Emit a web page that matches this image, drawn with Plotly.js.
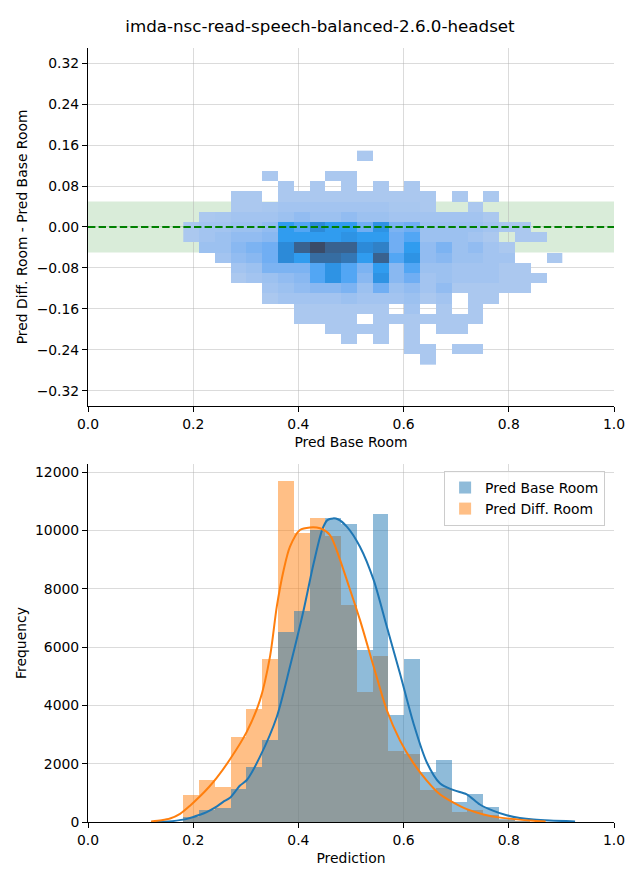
<!DOCTYPE html>
<html>
<head>
<meta charset="utf-8">
<script src="https://cdn.plot.ly/plotly-3.0.1.min.js"></script>
<style>html,body{margin:0;padding:0;background:#fff;}#chart{width:640px;height:880px;}</style>
</head>
<body>
<div id="chart"></div>
<script>
// ---------- DATA ----------
const chartTitle = "imda-nsc-read-speech-balanced-2.6.0-headset";

// shared bin centres (Pred Base Room / Prediction axis)
const xBinCenters = [0.1962,0.2262,0.2562,0.2862,0.3162,0.3462,0.3762,0.4062,0.4362,0.4662,0.4962,0.5262,
                     0.5562,0.5862,0.6162,0.6462,0.6762,0.7062,0.7362,0.7662,0.7962,0.8262,0.8562,0.8862];

// difference bin centres, top row first
const yBinCenters = [0.1393,0.1194,0.0995,0.0796,0.0597,0.0398,0.0199,0,-0.0199,-0.0398,-0.0597,
                     -0.0796,-0.0995,-0.1194,-0.1393,-0.1592,-0.1791,-0.199,-0.2189,-0.2388,-0.2587];

// estimated counts per cell, top row first (0 = empty)
const cellCounts = [
 [0,0,0,0,0,0,0,0,0,0,0,40,0,0,0,0,0,0,0,0,0,0,0,0],
 [0,0,0,0,0,0,0,0,0,0,0,0,0,0,0,0,0,0,0,0,0,0,0,0],
 [0,0,0,0,0,40,0,0,0,40,40,0,0,0,0,0,0,0,0,0,0,0,0,0],
 [0,0,0,0,0,0,40,0,40,0,40,0,40,0,40,0,0,0,0,0,0,0,0,0],
 [0,0,0,40,40,0,40,40,40,40,40,40,40,40,40,40,0,40,0,40,0,0,0,0],
 [0,0,0,40,40,60,100,100,100,100,100,100,100,60,60,40,0,0,40,0,0,0,0,0],
 [0,40,60,100,100,100,160,220,160,160,220,160,160,100,100,100,100,100,100,40,0,0,0,0],
 [40,100,100,160,160,220,640,520,760,640,640,400,700,340,400,160,160,160,160,100,40,40,0,0],
 [40,100,160,220,220,280,640,640,640,640,700,640,640,400,520,160,160,160,100,40,0,40,40,0],
 [0,160,160,280,340,400,760,1000,1120,1000,1000,760,820,400,640,220,340,160,220,100,40,0,0,0],
 [0,0,100,220,280,400,760,640,940,940,880,640,1000,520,700,220,280,160,160,100,100,0,0,40],
 [0,0,0,100,160,340,340,340,520,700,520,340,640,280,520,160,160,100,100,100,40,40,0,0],
 [0,0,0,40,100,160,220,280,520,700,520,280,700,280,400,100,160,100,100,100,40,40,40,0],
 [0,0,0,0,0,100,160,220,280,280,340,160,400,160,220,100,220,40,40,40,40,40,0,0],
 [0,0,0,0,0,40,100,100,100,100,160,100,100,100,160,40,100,0,40,40,0,0,0,0],
 [0,0,0,0,0,0,0,40,40,40,40,40,40,0,100,0,40,0,40,0,0,0,0,0],
 [0,0,0,0,0,0,0,40,40,40,40,0,40,40,40,40,40,40,40,0,0,0,0,0],
 [0,0,0,0,0,0,0,0,0,40,40,40,40,0,40,0,40,40,0,0,0,0,0,0],
 [0,0,0,0,0,0,0,0,0,0,40,0,40,0,40,0,0,0,0,0,0,0,0,0],
 [0,0,0,0,0,0,0,0,0,0,0,0,0,0,40,40,0,40,40,0,0,0,0,0],
 [0,0,0,0,0,0,0,0,0,0,0,0,0,0,0,40,0,0,0,0,0,0,0,0]
];

const toleranceBand = [-0.05, 0.05];

// histogram counts per bin
const baseRoomCounts = [180,410,480,1130,1900,2820,6515,7235,10010,10410,10220,5900,
                        10560,3670,5590,1700,2130,690,960,500,90,40,15,5];
const diffRoomCounts = [926,1440,1200,2915,3875,5590,11690,9920,10410,9810,7440,4470,
                        5690,2435,2330,1110,1170,355,400,240,60,25,8,0];

// KDE curves
const kdeBaseX = [0.12,0.143,0.16,0.19,0.213,0.2256,0.242,0.257,0.27,0.289,0.302,0.327,0.359,0.384,0.41,0.429,0.445,
                  0.455,0.466,0.475,0.492,0.517,0.543,0.568,0.593,0.619,0.644,0.669,0.694,0.72,0.745,0.771,
                  0.796,0.821,0.847,0.878,0.926];
const kdeBaseY = [0,10,30,115,250,340,500,690,830,1250,1440,2240,3610,5330,7270,8870,10010,
                  10350,10410,10380,10130,9440,8300,6700,5100,3370,2050,1330,1100,950,600,380,
                  230,140,85,50,20];
const kdeDiffX = [0.12,0.14,0.156,0.175,0.194,0.213,0.23,0.245,0.27,0.302,0.327,0.346,0.359,0.372,0.384,0.403,
                  0.422,0.441,0.46,0.478,0.492,0.517,0.543,0.568,0.593,0.619,0.644,0.669,0.694,0.72,0.752,
                  0.784,0.815,0.847,0.87];
const kdeDiffY = [20,60,120,280,560,880,1200,1520,2150,3100,4180,5670,7390,8640,9440,10010,
                  10100,10070,9840,9050,8300,6930,5330,3840,2800,2010,1420,950,670,440,260,
                  150,90,45,20];

// ---------- STYLE ----------
const FONT = "DejaVu Sans, sans-serif";
const FS = 13.9;
const GRID = "rgba(176,176,176,0.45)";
const BLUE = "#1f77b4", ORANGE = "#ff7f0e";

const zRows = cellCounts.map(r => r.map(v => v === 0 ? null : v)).slice().reverse();
const yRows = yBinCenters.slice().reverse();

const heat = {
  type: "heatmap", x: xBinCenters, y: yRows, z: zRows,
  xaxis: "x", yaxis: "y", showscale: false, zmin: 40, zmax: 1120,
  hoverongaps: false, zsmooth: false,
  colorscale: [
    [0.0, "#abc8ef"], [0.111, "#9cc1f0"], [0.222, "#89b8f1"], [0.333, "#70aef3"],
    [0.444, "#52a6f4"], [0.556, "#309cef"], [0.667, "#2c8ad8"], [0.778, "#3477b5"],
    [0.889, "#39628f"], [1.0, "#3a4b68"]
  ]
};

const barDiff = {
  type: "bar", x: xBinCenters, y: diffRoomCounts, width: 0.03,
  xaxis: "x2", yaxis: "y2", name: "Pred Diff. Room", legendrank: 2,
  marker: {color: "rgba(255,127,14,0.5)", line: {width: 0}}
};
const barBase = {
  type: "bar", x: xBinCenters, y: baseRoomCounts, width: 0.03,
  xaxis: "x2", yaxis: "y2", name: "Pred Base Room", legendrank: 1,
  marker: {color: "rgba(31,119,180,0.5)", line: {width: 0}}
};
const kdeBase = {
  type: "scatter", mode: "lines", x: kdeBaseX, y: kdeBaseY, xaxis: "x2", yaxis: "y2",
  line: {color: BLUE, width: 2, shape: "spline", smoothing: 0.8}, showlegend: false, hoverinfo: "skip"
};
const kdeDiff = {
  type: "scatter", mode: "lines", x: kdeDiffX, y: kdeDiffY, xaxis: "x2", yaxis: "y2",
  line: {color: ORANGE, width: 2, shape: "spline", smoothing: 0.8}, showlegend: false, hoverinfo: "skip"
};

const axisCommon = {
  showgrid: true, gridcolor: GRID, gridwidth: 1, zeroline: false,
  showline: true, linecolor: "#000", linewidth: 1,
  ticks: "outside", ticklen: 5, tickwidth: 1, tickcolor: "#000",
  tickfont: {family: FONT, size: FS, color: "#000"}, layer: "above traces"
};

const layout = {
  width: 640, height: 880,
  margin: {l: 88, r: 26, t: 48, b: 58},
  paper_bgcolor: "#fff", plot_bgcolor: "#fff",
  font: {family: FONT, size: FS, color: "#000"},
  title: {text: chartTitle, font: {family: FONT, size: 16.7, color: "#000"},
          x: 0.5, xref: "container", y: 0.9705, yref: "container", yanchor: "middle"},
  barmode: "overlay", bargap: 0,
  showlegend: true,
  legend: {x: 0.677, y: 0.4535, xref: "paper", yref: "paper", xanchor: "left", yanchor: "top",
           bgcolor: "rgba(255,255,255,0.8)", bordercolor: "#cccccc", borderwidth: 1,
           font: {family: FONT, size: FS, color: "#000"}, traceorder: "normal", tracegroupgap: 0},
  xaxis: Object.assign({}, axisCommon, {domain: [0, 1], anchor: "y", range: [0, 1], dtick: 0.2, tick0: 0,
           tickformat: ".1f", title: {text: "Pred Base Room", standoff: 6, font: {family: FONT, size: FS}}}),
  yaxis: Object.assign({}, axisCommon, {domain: [0.5375, 1], anchor: "x", range: [-0.35, 0.35], dtick: 0.08, tick0: 0,
           tickformat: ".2f", title: {text: "Pred Diff. Room - Pred Base Room", standoff: 5, font: {family: FONT, size: FS}}}),
  xaxis2: Object.assign({}, axisCommon, {domain: [0, 1], anchor: "y2", range: [0, 1], dtick: 0.2, tick0: 0,
           tickformat: ".1f", title: {text: "Prediction", standoff: 6, font: {family: FONT, size: FS}}}),
  yaxis2: Object.assign({}, axisCommon, {domain: [0, 0.4625], anchor: "x2", range: [0, 12274], dtick: 2000, tick0: 0,
           tickformat: "d", title: {text: "Frequency", standoff: 5, font: {family: FONT, size: FS}}}),
  shapes: [
    {type: "rect", xref: "x", yref: "y", x0: 0, x1: 1, y0: toleranceBand[0], y1: toleranceBand[1],
     fillcolor: "rgba(0,128,0,0.15)", line: {width: 0}, layer: "below"},
    {type: "line", xref: "x", yref: "y", x0: 0, x1: 1, y0: 0, y1: 0,
     line: {color: "#008000", width: 2, dash: "7.4px,3.2px"}, layer: "above"}
  ]
};

Plotly.newPlot("chart", [heat, barDiff, barBase, kdeBase, kdeDiff], layout, {displayModeBar: false, staticPlot: true});
</script>
</body>
</html>
